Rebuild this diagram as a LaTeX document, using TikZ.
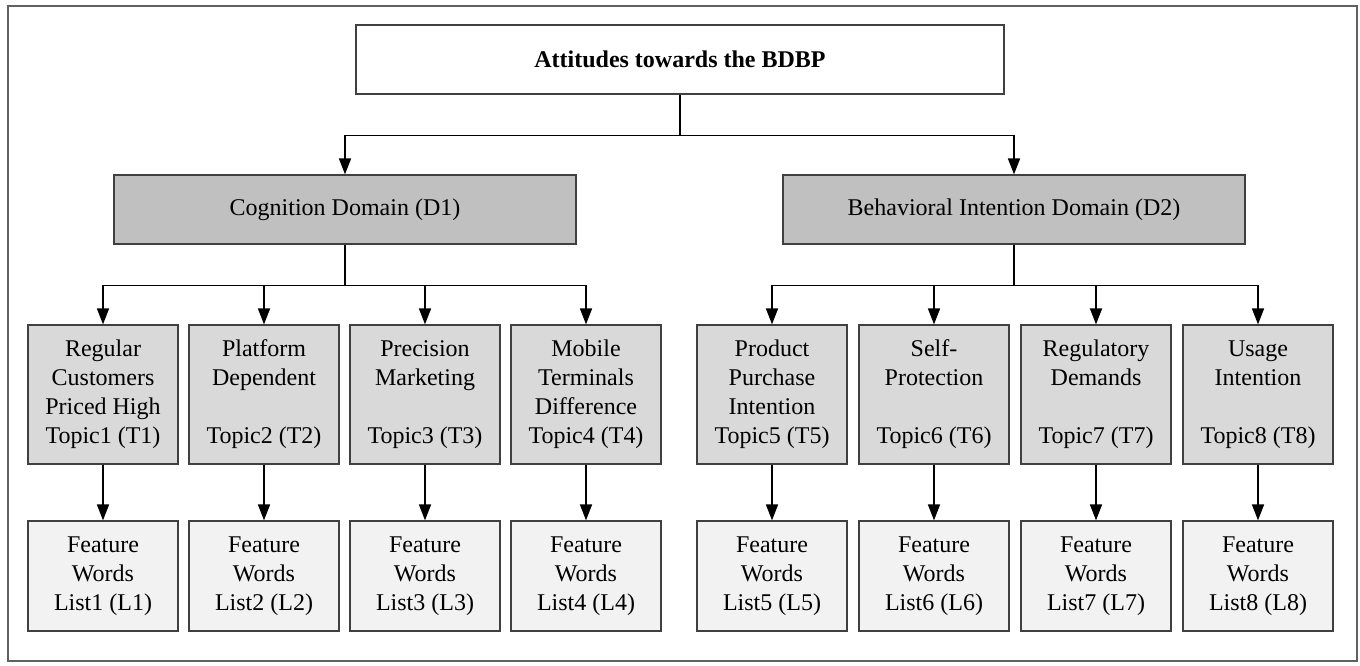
\documentclass[tikz,border=0pt]{standalone}
\usepackage{fontspec}
\setmainfont{Liberation Serif}
\usetikzlibrary{arrows.meta}
\definecolor{domfill}{gray}{0.753}
\definecolor{topfill}{gray}{0.851}
\definecolor{listfill}{gray}{0.949}
\definecolor{edgec}{gray}{0.25}
\definecolor{framec}{gray}{0.38}
\begin{document}
\begin{tikzpicture}[x=1pt,y=-1pt,
  box/.style={draw=edgec,line width=1.2pt,rectangle,inner sep=0pt,align=center,font=\fontsize{24}{29}\selectfont},
  titlebox/.style={box,fill=white,minimum width=648pt,minimum height=69pt,font=\fontsize{24}{29}\selectfont\bfseries},
  dombox/.style={box,fill=domfill,minimum width=462pt,minimum height=69pt},
  topicbox/.style={box,fill=topfill,minimum width=150pt,minimum height=139pt},
  listbox/.style={box,fill=listfill,minimum width=150pt,minimum height=110pt},
  conn/.style={line width=1.6pt,black},
  arr/.style={conn,-{Triangle[length=16pt,width=12pt]}}]
\useasboundingbox (0,0) rectangle (1360,666);
\draw[draw=framec,line width=1.2pt] (8,6) rectangle (1357,661);

\node[titlebox] (top) at (680,59.5) {Attitudes towards the BDBP};
\node[dombox] (d1) at (345,209.5) {Cognition Domain (D1)};
\node[dombox] (d2) at (1014,209.5) {Behavioral Intention Domain (D2)};

\node[topicbox] (t1) at (103,394.5) {Regular\\Customers\\Priced High\\Topic1 (T1)};
\node[topicbox] (t2) at (264,394.5) {Platform\\Dependent\\\strut\\Topic2 (T2)};
\node[topicbox] (t3) at (425,394.5) {Precision\\Marketing\\\strut\\Topic3 (T3)};
\node[topicbox] (t4) at (586,394.5) {Mobile\\Terminals\\Difference\\Topic4 (T4)};
\node[topicbox] (t5) at (772,394.5) {Product\\Purchase\\Intention\\Topic5 (T5)};
\node[topicbox] (t6) at (934,394.5) {Self-\\Protection\\\strut\\Topic6 (T6)};
\node[topicbox] (t7) at (1096,394.5) {Regulatory\\Demands\\\strut\\Topic7 (T7)};
\node[topicbox] (t8) at (1258,394.5) {Usage\\Intention\\\strut\\Topic8 (T8)};

\foreach \i/\x in {1/103,2/264,3/425,4/586,5/772,6/934,7/1096,8/1258}{
  \node[listbox] (l\i) at (\x,576) {Feature\\Words\\List\i\ (L\i)};
  \draw[arr] (t\i.south) -- (l\i.north);
}

\draw[conn] (top.south) -- ++(0,41) coordinate (h0);
\draw[arr] (h0) -| (d1.north);
\draw[arr] (h0) -| (d2.north);

\draw[conn] (d1.south) -- ++(0,41) coordinate (h1);
\foreach \i in {1,2,3,4}{\draw[arr] (h1) -| (t\i.north);}
\draw[conn] (d2.south) -- ++(0,41) coordinate (h2);
\foreach \i in {5,6,7,8}{\draw[arr] (h2) -| (t\i.north);}
\end{tikzpicture}
\end{document}
